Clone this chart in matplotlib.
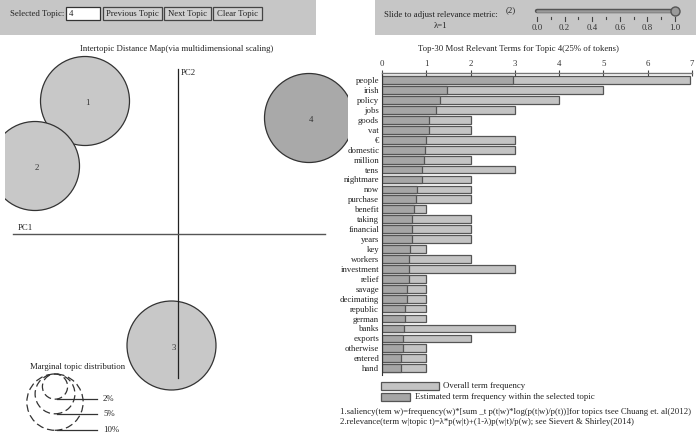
import numpy as np
import matplotlib
matplotlib.use("Agg")
import matplotlib.pyplot as plt
from matplotlib.patches import Rectangle, Circle

plt.rcParams['font.family'] = ['Liberation Serif', 'DejaVu Serif']

# --- data ---
terms = ["people", "irish", "policy", "jobs", "goods", "vat", "€", "domestic",
         "million", "tens", "nightmare", "now", "purchase", "benefit", "taking",
         "financial", "years", "key", "workers", "investment", "relief", "savage",
         "decimating", "republic", "german", "banks", "exports", "otherwise",
         "entered", "hand"]
overall_freq = [6.95, 5, 4, 3, 2, 2, 3, 3, 2, 3, 2, 2, 2, 1, 2,
                2, 2, 1, 2, 3, 1, 1, 1, 1, 1, 3, 2, 1, 1, 1]
topic_freq = [2.95, 1.46, 1.30, 1.21, 1.07, 1.05, 0.99, 0.96, 0.94, 0.91, 0.90,
              0.80, 0.77, 0.73, 0.68, 0.68, 0.68, 0.64, 0.62, 0.60, 0.60, 0.56,
              0.56, 0.53, 0.53, 0.50, 0.48, 0.47, 0.44, 0.44]
freq_ticks = [0, 1, 2, 3, 4, 5, 6, 7]

topic_ids = [1, 2, 3, 4]
topic_x = [-93, -143, -6.5, 131]
topic_y = [133, 68, -111.5, 116]
topic_share = [25, 25, 25, 25]  # percent of tokens
selected_topic = 4

legend_share = [2, 5, 10]
lambda_ticks = [0.0, 0.2, 0.4, 0.6, 0.8, 1.0]
lambda_value = 1.0

W, H = 696, 434
fig = plt.figure(figsize=(W / 100, H / 100), dpi=100)

# background / control panels in pixel coords
bg = fig.add_axes([0, 0, 1, 1])
bg.set_xlim(0, W)
bg.set_ylim(H, 0)
bg.axis('off')

panel = '#c6c6c6'
bg.add_patch(Rectangle((0, 0), 316, 35, fc=panel, ec='none'))
bg.add_patch(Rectangle((375, 0), 321, 35, fc=panel, ec='none'))

fs = 6.3
bg.text(10, 13.5, "Selected Topic:", fontsize=fs, va='center', ha='left', color='#222')
bg.add_patch(Rectangle((66, 7), 34, 13, fc='white', ec='#333', lw=0.9))
bg.text(69, 13.5, str(selected_topic), fontsize=fs, va='center', ha='left', color='#222')
for x0, x1, lab in [(103, 162, "Previous Topic"), (164, 211, "Next Topic"),
                    (213, 262, "Clear Topic")]:
    bg.add_patch(Rectangle((x0, 7), x1 - x0, 12.5, fc='#d0d0d0', ec='#444', lw=0.9))
    bg.text((x0 + x1) / 2, 13.5, lab, fontsize=fs, va='center', ha='center', color='#222')

bg.text(441, 15, "Slide to adjust relevance metric:", fontsize=fs, ha='center', va='center', color='#222')
bg.text(441, 25.5, "λ=1", fontsize=fs, ha='center', va='center', color='#222')
bg.text(511, 10.5, "(2)", fontsize=fs, ha='center', va='center', color='#222')

# slider
sl = fig.add_axes([537 / W, 1 - 34 / H, (675 - 537) / W, 30 / H])
sl.set_xlim(0, 1)
sl.set_ylim(34, 4)
sl.axis('off')
sl.plot([0, 1], [11, 11], color='#555', lw=3.2, solid_capstyle='round', clip_on=False)
sl.plot([0, 1], [11, 11], color='#9a9a9a', lw=1.8, solid_capstyle='round', clip_on=False)
sl.plot([lambda_value], [11], 'o', ms=6.5, mfc='#9a9a9a', mec='#555', clip_on=False)
for t in np.arange(0, 1.01, 0.1):
    major = any(abs(t - m) < 1e-6 for m in lambda_ticks)
    sl.plot([t, t], [17, 21 if major else 19], color='#444', lw=0.8, clip_on=False)
for t in lambda_ticks:
    sl.text(t, 28.5, f"{t:.1f}", fontsize=fs, ha='center', va='center', color='#333')

# --- intertopic distance map ---
bg.text(177, 49, "Intertopic Distance Map(via multidimensional scaling)", fontsize=fs,
        ha='center', va='center', color='#222')
mp = fig.add_axes([5 / W, 0, 343 / W, 394 / H])
mp.set_xlim(5 - 178, 348 - 178)
mp.set_ylim(234 - 434, 234 - 40)
mp.axis('off')

k = 8.9  # radius scale: px per sqrt(percent)
for tid, x, y, s in zip(topic_ids, topic_x, topic_y, topic_share):
    fc = '#a9a9a9' if tid == selected_topic else '#c8c8c8'
    mp.add_patch(Circle((x, y), k * np.sqrt(s), fc=fc, ec='#333', lw=0.9, zorder=1))
    mp.text(x + 2, y - 2, str(tid), fontsize=fs, ha='center', va='center', color='#333', zorder=3)

mp.plot([0, 0], [165, -144], color='#222', lw=0.9, zorder=2)
mp.plot([-165, 147], [0, 0], color='#555', lw=1.0, zorder=2)
mp.text(3, 161, "PC2", fontsize=fs, ha='left', va='center', color='#222')
mp.text(-160, 6, "PC1", fontsize=fs, ha='left', va='center', color='#222')

# marginal topic distribution legend
mp.text(-100, 234 - 367, "Marginal topic distribution", fontsize=fs, ha='center',
        va='center', color='#222')
top = 234 - 374
cx = -123
for s in legend_share:
    r = k * np.sqrt(s)
    mp.add_patch(Circle((cx, top - r), r, fc='none', ec='#333', lw=0.9, ls=(0, (6, 3))))
    mp.plot([cx + 2, -81], [top - 2 * r, top - 2 * r], color='#333', lw=0.9)
    mp.text(-75, top - 2 * r, f"{s}%", fontsize=fs, ha='left', va='center', color='#222')

# --- bar chart ---
bg.text(518, 49, "Top-30 Most Relevant Terms for Topic 4(25% of tokens)", fontsize=fs,
        ha='center', va='center', color='#222')
row0, step = 80.2, 9.93
ytop, ybot = 72.7, 375
bx = fig.add_axes([382 / W, 1 - ybot / H, (692 - 382) / W, (ybot - ytop) / H])
bx.set_xlim(0, 7)
bx.set_ylim((ybot - row0) / step, (ytop - row0) / step)
ypos = np.arange(len(terms))
bx.barh(ypos, overall_freq, height=0.78, color='#c3c3c3', edgecolor='#555', lw=0.9)
bx.barh(ypos, topic_freq, height=0.78, color='#a6a6a6', edgecolor='#555', lw=0.9)
bx.set_yticks(ypos)
bx.set_yticklabels(terms, fontsize=fs, color='#222')
bx.tick_params(axis='y', length=0, pad=2)
bx.xaxis.tick_top()
bx.set_xticks(freq_ticks)
bx.set_xticklabels([str(t) for t in freq_ticks], fontsize=fs, color='#333')
bx.tick_params(axis='x', direction='inout', length=5, width=0.8, color='#444', pad=1)
for sp in ['right', 'bottom']:
    bx.spines[sp].set_visible(False)
bx.spines['top'].set_color('#777')
bx.spines['top'].set_linewidth(1.0)
bx.spines['left'].set_color('#333')
bx.spines['left'].set_linewidth(0.8)
bx.set_facecolor('none')

# bar legend
bg.add_patch(Rectangle((381, 382), 58, 8, fc='#c3c3c3', ec='#555', lw=0.9))
bg.text(443, 386, "Overall term frequency", fontsize=fs, ha='left', va='center', color='#222')
bg.add_patch(Rectangle((381, 393), 29, 8, fc='#a6a6a6', ec='#555', lw=0.9))
bg.text(415, 397, "Estimated term frequency within the selected topic", fontsize=fs,
        ha='left', va='center', color='#222')

bg.text(340, 411.5, "1.saliency(tem w)=frequency(w)*[sum _t p(t|w)*log(p(t|w)/p(t))]for topics tsee Chuang et. al(2012)",
        fontsize=fs, ha='left', va='center', color='#222')
bg.text(340, 422, "2.relevance(term w|topic t)=λ*p(w|t)+(1-λ)p(w|t)/p(w); see Sievert & Shirley(2014)",
        fontsize=fs, ha='left', va='center', color='#222')

fig.savefig("out.png", dpi=100)
